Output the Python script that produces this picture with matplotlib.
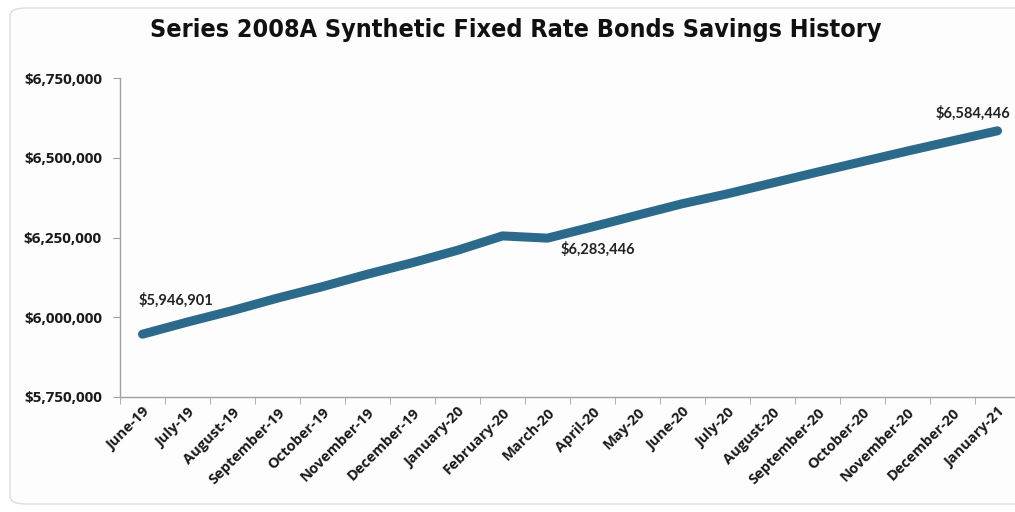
import matplotlib
matplotlib.use("Agg")
import matplotlib.pyplot as plt
from matplotlib.patches import FancyBboxPatch
from matplotlib.ticker import FuncFormatter, FixedLocator

months = ["June-19", "July-19", "August-19", "September-19", "October-19",
          "November-19", "December-19", "January-20", "February-20", "March-20",
          "April-20", "May-20", "June-20", "July-20", "August-20",
          "September-20", "October-20", "November-20", "December-20", "January-21"]
savings = [5946901, 5985000, 6021000, 6060000, 6096000,
           6135000, 6171000, 6210000, 6255000, 6248000,
           6283446, 6320000, 6356000, 6387000, 6421000,
           6455000, 6488000, 6521000, 6553000, 6584446]
labelled = {0: (33, 34), 10: (5, -22), 19: (-25, 18)}

W, H, DPI = 1015, 512, 100
fig = plt.figure(figsize=(W / DPI, H / DPI), dpi=DPI)
fig.patch.set_facecolor("white")

frame = FancyBboxPatch((10 / W, 8 / H), 1.2, (H - 16) / H,
                       boxstyle="round,pad=0,rounding_size=0.015",
                       transform=fig.transFigure, facecolor="#fdfdfd",
                       edgecolor="#dcdcdc", linewidth=1.0, zorder=-5)
fig.patches.append(frame)

x0, x1, y_top, y_bot = 120, 1015, 78, 397
ax = fig.add_axes([x0 / W, 1 - y_bot / H, (x1 - x0) / W, (y_bot - y_top) / H])
ax.set_facecolor("none")
ax.set_zorder(2)

xs = list(range(len(months)))
ax.plot(xs, savings, color="#2c6a8b", linewidth=6.5, solid_capstyle="round",
        solid_joinstyle="round", zorder=3)

ax.set_ylim(5750000, 6750000)
ax.set_xlim(-0.5, (x1 - x0) / 45 - 0.5)
ax.set_yticks([5750000, 6000000, 6250000, 6500000, 6750000])
ax.yaxis.set_major_formatter(FuncFormatter(lambda v, p: f"${v:,.0f}"))

ax.set_xticks(xs)
ax.set_xticklabels(months, rotation=45, ha="right", rotation_mode="anchor",
                   fontsize=10.5, fontweight="bold", family="Open Sans",
                   color="#1a1a1a")
ax.xaxis.set_minor_locator(FixedLocator([i - 0.5 for i in range(len(months) + 1)]))
ax.tick_params(axis="x", which="major", length=0, pad=6)
ax.tick_params(axis="x", which="minor", length=5, color="#a0a0a0", direction="out")
ax.tick_params(axis="y", length=5, color="#a0a0a0", direction="out", pad=8)
for lab in ax.get_yticklabels():
    lab.set_fontsize(11)
    lab.set_fontweight("bold")
    lab.set_family("Open Sans")
    lab.set_color("#1a1a1a")

for side in ("top", "right"):
    ax.spines[side].set_visible(False)
for side in ("left", "bottom"):
    ax.spines[side].set_color("#a0a0a0")
    ax.spines[side].set_linewidth(1.0)

for i, (dx, dy) in labelled.items():
    ax.annotate(f"${savings[i]:,.0f}", xy=(i, savings[i]),
                xytext=(dx, dy), textcoords="offset pixels",
                ha="center", va="center", fontsize=10.5, fontweight="bold",
                family="Lato", color="#222222", annotation_clip=False,
                zorder=4)

fig.text(516 / W, 1 - 30 / H,
         "Series 2008A Synthetic Fixed Rate Bonds Savings History",
         ha="center", va="center", fontsize=18, fontweight="bold",
         family="DejaVu Sans", fontstretch="condensed", color="#111111")

fig.savefig("out.png", dpi=DPI)
